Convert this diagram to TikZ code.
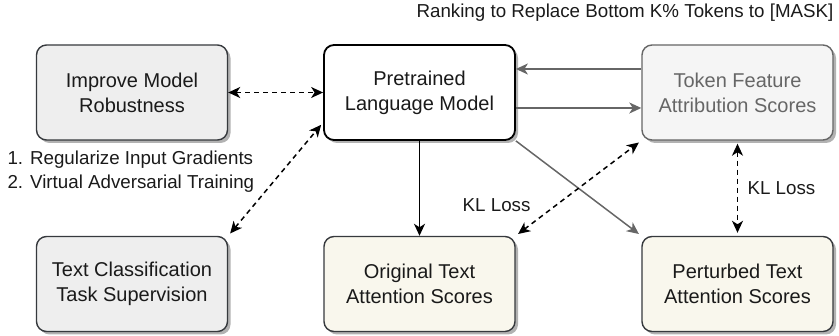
\documentclass[tikz,border=0pt]{standalone}
\usepackage{fontspec}
\setmainfont{Liberation Sans}
\usetikzlibrary{arrows.meta,positioning,shapes,shadows}
\definecolor{boxgray}{HTML}{EEEEEE}
\definecolor{lightgray}{HTML}{F5F5F5}
\definecolor{cream}{HTML}{F9F7ED}
\definecolor{darkline}{HTML}{36393D}
\definecolor{midgray}{HTML}{666666}
\definecolor{darktext}{HTML}{1A1A1A}
\tikzset{
    %Define standard arrow tip
    >={Stealth[length=12pt,width=11pt,inset=3.5pt]},
    %Define style for boxes
    rbox/.style={
           rectangle,
           rounded corners=10pt,
           draw=darkline, line width=1.4pt,
           minimum width=191pt,
           minimum height=95pt,
           align=center,
           text=darktext,
           font=\fontsize{20}{25}\selectfont,
           drop shadow={shadow xshift=3pt,shadow yshift=-3pt,fill=black!30,opacity=1}},
    graybox/.style={rbox, fill=boxgray},
    creambox/.style={rbox, fill=cream},
    % Define arrow style
    arr/.style={
           ->,
           line width=1.5pt},
    grayarr/.style={
           ->,
           line width=1.5pt,
           draw=midgray,
           >={Stealth[length=12pt,width=11pt,inset=3.5pt,fill=midgray]}},
    dashedarr/.style={
            <->,
            line width=1.5pt,
            dash pattern=on 5pt off 4pt,
            shorten <=3pt,
            shorten >=3pt},
    lbl/.style={
            text=darktext,
            font=\fontsize{18.75}{24}\selectfont}
}

\begin{document}
\begin{tikzpicture}[x=1pt,y=-1pt]
    \useasboundingbox (0,0) rectangle (839,336);

    % TOP ROW
    \node[graybox] at (132,92.5) (robust) {Improve Model\\Robustness};
    \node[rbox, fill=white, draw=black, line width=1.8pt] at (419.5,92.5) (plm) {Pretrained\\Language Model};
    \node[rbox, fill=lightgray, draw=midgray, text=midgray] at (737.5,92.5) (tfa) {Token Feature\\Attribution Scores};

    % BOTTOM ROW
    \node[graybox] at (132,284) (tcs) {Text Classification\\Task Supervision};
    \node[creambox] at (419.5,284) (orig) {Original Text\\Attention Scores};
    \node[creambox] at (737.5,284) (pert) {Perturbed Text\\Attention Scores};

    % LABELS
    \node[lbl] at (625,13) (rank) {Ranking to Replace Bottom K\% Tokens to [MASK]};
    \node[lbl, anchor=west, align=left] at (4,172) (reg) {1. Regularize Input Gradients\\2. Virtual Adversarial Training};

    % ARROWS
    \draw[dashedarr, shorten <=0pt, shorten >=0pt] (robust.east) -- (plm.west);
    \draw[grayarr] ([yshift=23.5pt]tfa.west) -- ([yshift=23.5pt]plm.east);
    \draw[grayarr] ([yshift=-15.5pt]plm.east) -- ([yshift=-15.5pt]tfa.west);
    \draw[arr] (plm) -- (orig);
    \draw[grayarr, shorten >=3pt] (plm.south east) -- (pert.north west);
    \draw[dashedarr] (tcs.north east) -- ([yshift=-30pt]plm.west);
    \draw[dashedarr] (orig.north east) -- node[lbl, pos=0.15, above left=6pt and 0pt] (kl1) {KL Loss} (tfa.south west);
    \draw[dashedarr] (tfa) -- node[lbl, right=6pt] (kl2) {KL Loss} (pert);

\end{tikzpicture}
\end{document}
